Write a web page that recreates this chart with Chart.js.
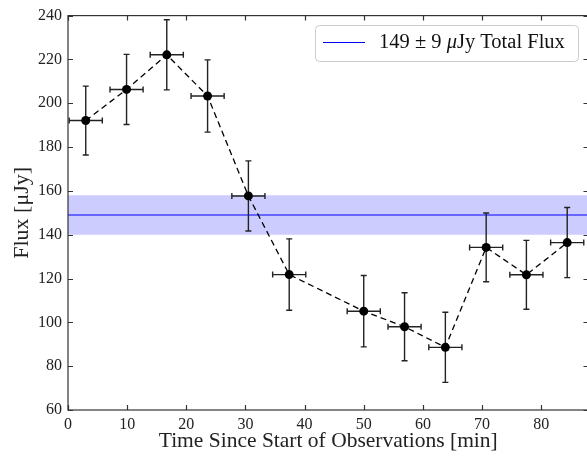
<!DOCTYPE html>
<html>
<head>
<meta charset="utf-8">
<script src="https://cdn.jsdelivr.net/npm/chart.js@4"></script>
<style>
  html, body { margin: 0; background: #fff; overflow: hidden; }
  /* canvas runs a few px past the window so the right spine is cut off, as in the original */
  #wrap { width: 593px; height: 458px; position: relative; }
</style>
</head>
<body>
<div id="wrap"><canvas id="flux-chart"></canvas></div>
<script>
// observation bins (minutes) and measured flux (uJy)
const times = [3.0, 9.9, 16.7, 23.6, 30.5, 37.4, 50.0, 56.9, 63.8, 70.7, 77.5, 84.4];
const flux = [192.1, 206.3, 222.1, 203.3, 157.7, 121.8, 105.1, 98.0, 88.6, 134.2, 121.7, 136.4];
const fluxErr = [15.7, 16, 16, 16.5, 16, 16.3, 16.3, 15.5, 16, 15.7, 15.7, 16];
const timeErr = [2.8, 2.8, 2.8, 2.8, 2.8, 2.8, 2.8, 2.8, 2.8, 2.8, 2.8, 2.8];

const totalFlux = 149;
const totalErr = 9;
const xRange = [0, 88];
const yRange = [60, 240];

const serif = "'Liberation Serif', 'DejaVu Serif', serif";

const fluxChart = document.getElementById("flux-chart");

const points = times.map((t, i) => ({ x: t, y: flux[i] }));

const fluxData = {
    datasets: [{
        label: 'Flux',
        data: points,
        showLine: true,
        borderColor: '#000',
        borderWidth: 1.3,
        borderDash: [6, 4],
        pointRadius: 4.5,
        pointBackgroundColor: '#000',
        pointBorderWidth: 0,
        fill: false
    }, {
        label: totalFlux + ' \u00b1 ' + totalErr + ' \u03bcJy Total Flux',
        data: xRange.map(x => ({ x: x, y: totalFlux })),
        showLine: true,
        borderColor: '#0000ff',
        borderWidth: 1.2,
        pointRadius: 0,
        fill: false
    }, {
        label: 'upper',
        data: xRange.map(x => ({ x: x, y: totalFlux + totalErr })),
        showLine: true,
        borderWidth: 0,
        pointRadius: 0,
        backgroundColor: 'rgba(0, 0, 255, .2)',
        fill: '+1'
    }, {
        label: 'lower',
        data: xRange.map(x => ({ x: x, y: totalFlux - totalErr })),
        showLine: true,
        borderWidth: 0,
        pointRadius: 0,
        fill: false
    }]
};

// error bars for the flux points, drawn under the markers
const errorBars = {
    id: 'errorBars',
    beforeDatasetDraw(chart, args) {
        if (args.index !== 0) return;
        const { ctx, scales: { x, y } } = chart;
        const cap = 3;
        ctx.save();
        ctx.strokeStyle = '#222';
        ctx.lineWidth = 1.4;
        ctx.beginPath();
        for (let i = 0; i < times.length; i++) {
            const px = x.getPixelForValue(times[i]);
            const py = y.getPixelForValue(flux[i]);
            const top = y.getPixelForValue(flux[i] + fluxErr[i]);
            const bot = y.getPixelForValue(flux[i] - fluxErr[i]);
            const lft = x.getPixelForValue(times[i] - timeErr[i]);
            const rgt = x.getPixelForValue(times[i] + timeErr[i]);
            ctx.moveTo(px, top); ctx.lineTo(px, bot);
            ctx.moveTo(px - cap, top); ctx.lineTo(px + cap, top);
            ctx.moveTo(px - cap, bot); ctx.lineTo(px + cap, bot);
            ctx.moveTo(lft, py); ctx.lineTo(rgt, py);
            ctx.moveTo(lft, py - cap); ctx.lineTo(lft, py + cap);
            ctx.moveTo(rgt, py - cap); ctx.lineTo(rgt, py + cap);
        }
        ctx.stroke();
        ctx.restore();
    }
};

// box frame with inward ticks on all four sides
const frame = {
    id: 'frame',
    afterDatasetsDraw(chart) {
        const { ctx, chartArea: a, scales: { x, y } } = chart;
        const len = 5;
        ctx.save();
        ctx.strokeStyle = '#333';
        ctx.lineWidth = 1.2;
        ctx.strokeRect(a.left, a.top, a.right - a.left, a.bottom - a.top);
        ctx.beginPath();
        x.ticks.forEach(t => {
            const px = Math.round(x.getPixelForValue(t.value)) + 0.5;
            ctx.moveTo(px, a.bottom); ctx.lineTo(px, a.bottom - len);
            ctx.moveTo(px, a.top); ctx.lineTo(px, a.top + len);
        });
        y.ticks.forEach(t => {
            const py = Math.round(y.getPixelForValue(t.value)) + 0.5;
            ctx.moveTo(a.left, py); ctx.lineTo(a.left + len, py);
            ctx.moveTo(a.right, py); ctx.lineTo(a.right - len, py);
        });
        ctx.stroke();
        ctx.restore();
    }
};

// legend box, top right
const legendBox = {
    id: 'legendBox',
    afterDraw(chart) {
        const { ctx } = chart;
        const bx = 315, by = 25, bw = 263, bh = 36;
        ctx.save();
        ctx.fillStyle = '#fff';
        ctx.strokeStyle = '#ccc';
        ctx.lineWidth = 1;
        ctx.beginPath();
        ctx.roundRect(bx + 0.5, by + 0.5, bw, bh, 4);
        ctx.fill();
        ctx.stroke();
        ctx.strokeStyle = '#0000ff';
        ctx.lineWidth = 1.2;
        ctx.beginPath();
        ctx.moveTo(bx + 8, by + 17.5);
        ctx.lineTo(bx + 50, by + 17.5);
        ctx.stroke();
        ctx.fillStyle = '#111';
        ctx.textBaseline = 'middle';
        let tx = bx + 64;
        const ty = by + 18;
        const parts = [
            ['20.5px ' + serif, totalFlux + ' \u00b1 ' + totalErr + ' '],
            ['italic 20.5px ' + serif, '\u03bc'],
            ['20.5px ' + serif, 'Jy Total Flux']
        ];
        parts.forEach(p => {
            ctx.font = p[0];
            ctx.fillText(p[1], tx, ty);
            tx += ctx.measureText(p[1]).width;
        });
        ctx.restore();
    }
};

const fluxOptions = {
    responsive: true,
    maintainAspectRatio: false,
    animation: false,
    layout: {
        padding: { top: 15, right: 0, left: 0, bottom: 0 }
    },
    scales: {
        x: {
            type: 'linear',
            min: xRange[0],
            max: xRange[1],
            afterFit: s => { s.height = 48; },
            grid: { display: false, drawTicks: false },
            border: { display: false },
            ticks: {
                stepSize: 10,
                includeBounds: false,
                padding: 5,
                maxRotation: 0,
                color: '#222',
                font: { family: serif, size: 16 }
            },
            title: {
                display: true,
                text: 'Time Since Start of Observations [min]',
                color: '#222',
                padding: { top: 0, bottom: 4 },
                font: { family: serif, size: 21.5 }
            }
        },
        y: {
            type: 'linear',
            min: yRange[0],
            max: yRange[1],
            afterFit: s => { s.width = 68; },
            grid: { display: false, drawTicks: false },
            border: { display: false },
            ticks: {
                stepSize: 20,
                padding: 6,
                color: '#222',
                font: { family: serif, size: 16 }
            },
            title: {
                display: true,
                text: 'Flux [\u03bcJy]',
                color: '#222',
                padding: { top: 9, bottom: 0 },
                font: { family: serif, size: 22 }
            }
        }
    },
    plugins: {
        legend: { display: false },
        tooltip: { enabled: false }
    }
};

let fluxChartShow = new Chart(fluxChart, {
    type: 'scatter',
    data: fluxData,
    options: fluxOptions,
    plugins: [errorBars, frame, legendBox]
});
</script>
</body>
</html>
